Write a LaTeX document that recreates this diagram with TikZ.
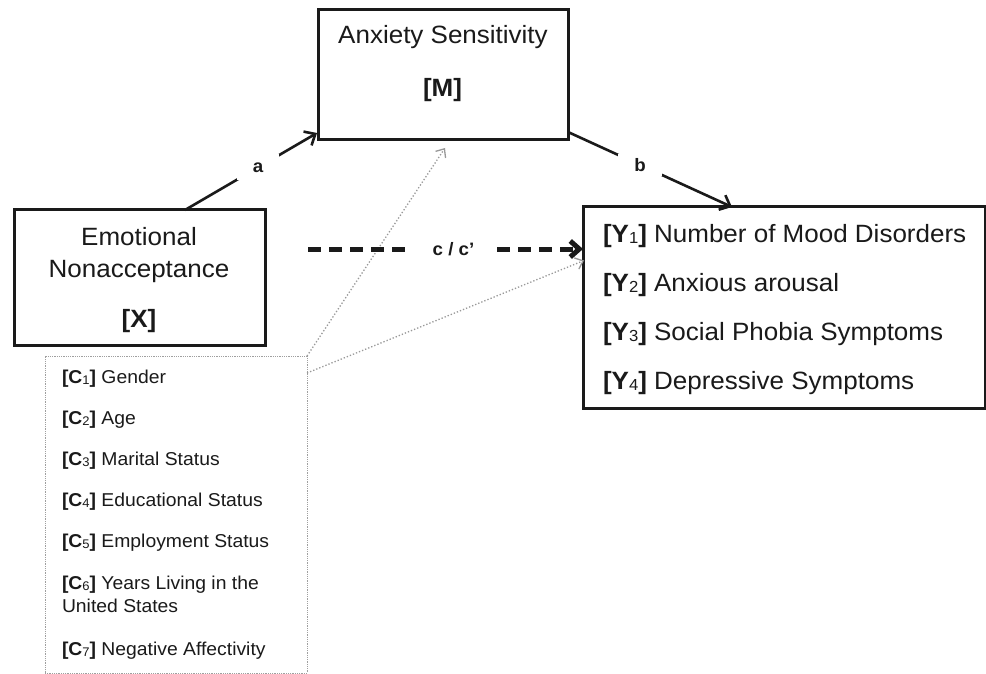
\documentclass[tikz,border=0pt]{standalone}
\usepackage{fontspec}
\setmainfont[FakeStretch=1.04]{Liberation Sans}
\usetikzlibrary{arrows.meta,calc}
\definecolor{ink}{HTML}{1A1A1A}
\newcommand\bigfont{\fontsize{25}{30}\selectfont}
\newcommand\smfont{\fontsize{18.6}{22}\selectfont}
\newcommand\lblfont{\fontsize{18}{20}\selectfont\bfseries}
\newcommand\ysb[1]{\raisebox{-1.5pt}{\mdseries\fontsize{16}{16}\selectfont #1}}
\newcommand\csb[1]{\raisebox{-1pt}{\mdseries\fontsize{12.5}{12.5}\selectfont #1}}
\begin{document}
\begin{tikzpicture}[x=1pt,y=-1pt,
  thickbox/.style={draw=ink,line width=3pt,inner sep=0pt,outer sep=0pt},
  covbox/.style={draw=gray!75,line width=0.8pt,densely dotted,inner sep=0pt,outer sep=0pt},
  bigtxt/.style={text=ink,inner sep=0pt,outer sep=0pt,font=\bigfont},
  smtxt/.style={text=ink,inner sep=0pt,outer sep=0pt,font=\smfont},
  patharrow/.style={draw=ink,line width=2.6pt,-{Straight Barb[length=9pt,width=16pt]}},
  directarrow/.style={draw=ink,line width=5pt,dash pattern=on 13pt off 8pt,-{Straight Barb[length=9pt,width=16pt]}},
  covarrow/.style={draw=gray!80,line width=1.3pt,dotted,-{Straight Barb[length=7pt,width=12pt,line width=1.3pt]}},
  lbl/.style={fill=white,text=ink,font=\lblfont,inner sep=0pt,outer sep=0pt}]
\useasboundingbox (0,0) rectangle (986,674);
\fill[white] (0,0) rectangle (986,674);

% boxes
\node[thickbox,minimum width=250pt,minimum height=130pt] (M) at (443,75) {};
\node[thickbox,minimum width=251pt,minimum height=135pt] (X) at (139.5,277.5) {};
\node[thickbox,minimum width=402pt,minimum height=201pt] (Y) at (784,307.5) {};
\node[covbox,minimum width=262pt,minimum height=317pt] (C) at (176,514.5) {};

% texts
\node[bigtxt,anchor=base] (m1) at (443,44) {Anxiety Sensitivity};
\node[bigtxt,anchor=base] (m2) at (442.5,97) {\textbf{[M]}};
\node[bigtxt,anchor=base] (x1) at (139,245) {Emotional};
\node[bigtxt,anchor=base] (x2) at (139,277) {Nonacceptance};
\node[bigtxt,anchor=base] (x3) at (139,327) {\textbf{[X]}};

\node[bigtxt,anchor=base west] (y1) at (603,242) {\textbf{[Y\ysb{1}]} Number of Mood Disorders};
\node[bigtxt,anchor=base west] (y2) at (603,291) {\textbf{[Y\ysb{2}]} Anxious arousal};
\node[bigtxt,anchor=base west] (y3) at (603,340) {\textbf{[Y\ysb{3}]} Social Phobia Symptoms};
\node[bigtxt,anchor=base west] (y4) at (603,389) {\textbf{[Y\ysb{4}]} Depressive Symptoms};

\node[smtxt,anchor=base west] (c1) at (62,383) {\textbf{[C\csb{1}]} Gender};
\node[smtxt,anchor=base west] (c2) at (62,424) {\textbf{[C\csb{2}]} Age};
\node[smtxt,anchor=base west] (c3) at (62,465) {\textbf{[C\csb{3}]} Marital Status};
\node[smtxt,anchor=base west] (c4) at (62,506) {\textbf{[C\csb{4}]} Educational Status};
\node[smtxt,anchor=base west] (c5) at (62,547) {\textbf{[C\csb{5}]} Employment Status};
\node[smtxt,anchor=base west] (c6a) at (62,589) {\textbf{[C\csb{6}]} Years Living in the};
\node[smtxt,anchor=base west] (c6b) at (62,612) {United States};
\node[smtxt,anchor=base west] (c7) at (62,655) {\textbf{[C\csb{7}]} Negative Affectivity};

% connector end points
\coordinate (aS) at ($(X.north)+(45.5,0)$);
\coordinate (aE) at ($(M.south west)+(-1,-7)$);
\coordinate (bS) at ($(M.south east)+(0,-8)$);
\coordinate (bE) at ($(Y.north west)+(149,0)$);
\coordinate (cS) at ($(X.north east)+(43,39)$);
\coordinate (cE) at (cS -| Y.west);
\coordinate (g1S) at (C.north east);
\coordinate (g1E) at ($(M.south)+(2,8)$);
\coordinate (g2S) at ($(C.north east)+(0,17)$);
\coordinate (g2E) at ($(Y.west)+(1,-47)$);

% covariate arrows
\draw[covarrow] (g1S) -- (g1E);
\draw[covarrow] (g2S) -- (g2E);

% paths
\draw[patharrow] (aS) -- node[lbl,pos=0.553,minimum width=42pt,minimum height=26pt] (la) {a} (aE);
\draw[patharrow] (bS) -- node[lbl,pos=0.44,minimum width=44pt,minimum height=22pt] (lb) {b} (bE);
\draw[directarrow] (cS) -- node[lbl,pos=0.529,minimum width=87pt,minimum height=12pt] (lc) {c / c’} (cE);
\end{tikzpicture}
\end{document}
